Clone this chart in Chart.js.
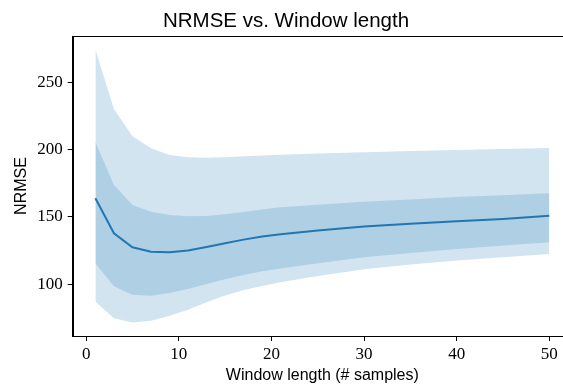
<!DOCTYPE html>
<html>
<head>
<meta charset="utf-8">
<script src="https://cdn.jsdelivr.net/npm/chart.js@4/dist/chart.umd.min.js"></script>
<style>
  html, body { margin: 0; padding: 0; background: #fff; overflow: hidden; }
  #wrap { position: absolute; left: 0; top: 0; width: 644px; height: 385px; }
</style>
</head>
<body>
<div id="wrap"><canvas id="chart" width="644" height="385"></canvas></div>
<script>
const windowLength = [1, 3, 5, 7, 9, 11, 13, 15, 17, 19, 21, 25, 30, 35, 40, 45, 50];
const meanNrmse = [163.7, 137.7, 127.3, 124.0, 123.6, 125.0, 127.5, 130.3, 133.0, 135.3, 137.0, 139.8, 142.8, 144.8, 146.6, 148.4, 150.8];
const innerUpper = [205.5, 173.6, 158.7, 153.8, 151.3, 150.3, 150.5, 151.8, 153.5, 155.3, 157.0, 159.0, 161.2, 162.8, 164.6, 166.0, 167.4];
const innerLower = [115.4, 98.3, 92.1, 91.3, 93.3, 96.3, 100.0, 103.5, 106.8, 109.5, 111.5, 115.5, 120.0, 123.0, 126.0, 128.6, 131.0];
const outerUpper = [274.2, 230.1, 209.8, 200.9, 195.9, 194.2, 193.9, 194.3, 195.0, 195.6, 196.0, 197.0, 198.0, 198.8, 199.6, 200.4, 201.1];
const outerLower = [86.8, 74.5, 71.5, 72.7, 76.4, 80.9, 86.4, 91.5, 95.5, 98.5, 101.3, 106.0, 111.0, 114.5, 117.5, 120.0, 122.3];
const xTicks = [0, 10, 20, 30, 40, 50];
const yTicks = [100, 150, 200, 250];

const band = "rgba(31,119,180,0.2)";
const toPoints = (ys) => windowLength.map((x, i) => ({ x: x, y: ys[i] }));

// draws the top (and right) spine round the plot area
const frame = {
  id: "frame",
  afterDraw(chart) {
    const a = chart.chartArea;
    const ctx = chart.ctx;
    ctx.save();
    ctx.strokeStyle = "#000";
    ctx.lineWidth = 1;
    ctx.strokeRect(Math.round(a.left) + 0.5, Math.round(a.top) + 0.5, Math.round(a.right - a.left), Math.round(a.bottom - a.top));
    ctx.restore();
  },
};

const tickFont = { family: "'Liberation Serif', serif", size: 17 };
const labelFont = { family: "'Liberation Sans', sans-serif", size: 16 };

// the canvas is wider than the window so that the title sits over the
// middle of the axes; the right spine falls outside the visible area
new Chart(document.getElementById("chart"), {
  type: "line",
  plugins: [frame],
  data: {
    datasets: [
      { data: toPoints(meanNrmse), borderColor: "#1f77b4", borderWidth: 2, fill: false, pointRadius: 0 },
      { data: toPoints(innerUpper), borderWidth: 0, backgroundColor: band, fill: "+1", pointRadius: 0 },
      { data: toPoints(innerLower), borderWidth: 0, fill: false, pointRadius: 0 },
      { data: toPoints(outerUpper), borderWidth: 0, backgroundColor: band, fill: "+1", pointRadius: 0 },
      { data: toPoints(outerLower), borderWidth: 0, fill: false, pointRadius: 0 },
    ],
  },
  options: {
    responsive: false,
    animation: false,
    layout: { padding: { left: 0, right: 72, top: 0, bottom: 0 } },
    plugins: {
      legend: { display: false },
      tooltip: { enabled: false },
      title: {
        display: true,
        text: "NRMSE vs. Window length",
        color: "#000",
        font: { family: "'Liberation Sans', sans-serif", size: 20.5, weight: "normal" },
        padding: { top: 9, bottom: 2.4 },
      },
    },
    scales: {
      x: {
        type: "linear",
        min: -1.45,
        max: 52.45,
        afterBuildTicks: (scale) => { scale.ticks = xTicks.map((v) => ({ value: v })); },
        afterFit: (scale) => { scale.height = 49; },
        grid: { display: true, drawOnChartArea: false, drawTicks: true, tickLength: 5, color: "#000" },
        border: { display: true, color: "#000", width: 1 },
        ticks: { color: "#000", font: tickFont, padding: 3, maxRotation: 0 },
        title: { display: true, text: "Window length (# samples)", color: "#000", font: labelFont, padding: { top: 0, bottom: 0 } },
      },
      y: {
        min: 61.4,
        max: 284.3,
        afterBuildTicks: (scale) => { scale.ticks = yTicks.map((v) => ({ value: v })); },
        afterFit: (scale) => { scale.width = 72.7; },
        grid: { display: true, drawOnChartArea: false, drawTicks: true, tickLength: 5, color: "#000" },
        border: { display: true, color: "#000", width: 1 },
        ticks: { color: "#000", font: tickFont, padding: 5 },
        title: { display: true, text: "NRMSE", color: "#000", font: labelFont, padding: { top: 12, bottom: 0 } },
      },
    },
  },
});
</script>
</body>
</html>
